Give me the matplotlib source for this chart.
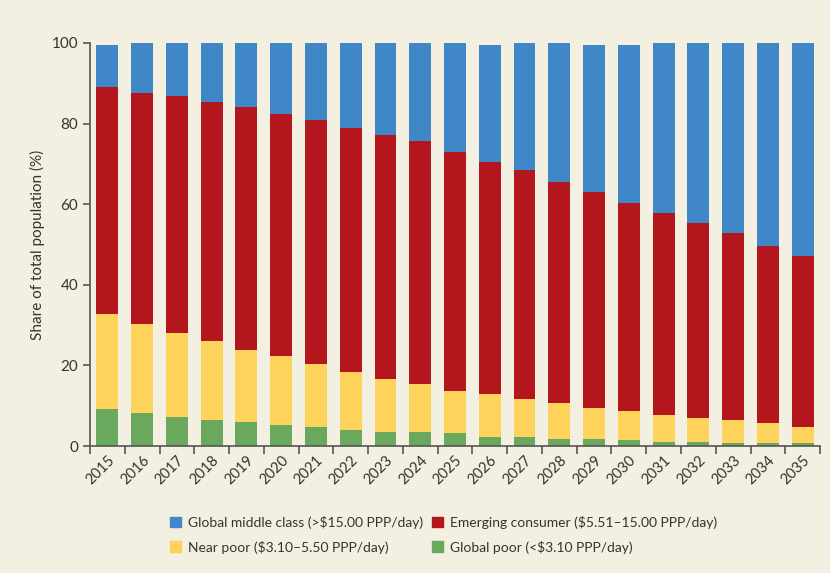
import numpy as np
import matplotlib.pyplot as plt
from matplotlib.patches import Patch

plt.rcParams["font.family"] = ["Lato", "DejaVu Sans"]

years = [str(y) for y in range(2015, 2036)]

# stacked shares (%), bottom to top
global_poor = [9.1, 8.1, 7.3, 6.5, 6.0, 5.2, 4.8, 4.0, 3.5, 3.5, 3.2,
               2.3, 2.3, 1.8, 1.8, 1.4, 1.1, 1.1, 0.7, 0.7, 0.7]
near_poor_top = [32.8, 30.3, 28.0, 26.0, 23.8, 22.3, 20.3, 18.4, 16.7, 15.4, 13.7,
                 12.9, 11.6, 10.7, 9.4, 8.6, 7.8, 6.9, 6.5, 5.6, 4.8]
emerging_top = [89.1, 87.7, 86.9, 85.3, 84.0, 82.4, 80.9, 79.0, 77.2, 75.6, 73.0,
                70.5, 68.5, 65.5, 63.0, 60.3, 57.8, 55.3, 52.9, 49.6, 47.1]
total = [99.6, 100, 100, 100, 100, 100, 100, 100, 100, 100, 100,
         99.6, 100, 100, 99.6, 99.6, 100, 100, 100, 100, 100]

near_poor = np.array(near_poor_top) - np.array(global_poor)
emerging = np.array(emerging_top) - np.array(near_poor_top)
middle = np.array(total) - np.array(emerging_top)

labels = [
    "Global middle class (>$15.00 PPP/day)",
    "Emerging consumer ($5.51\u201315.00 PPP/day)",
    "Near poor ($3.10\u20135.50 PPP/day)",
    "Global poor (<$3.10 PPP/day)",
]
colors = {"middle": "#3f87c7", "emerging": "#b3161d",
          "near": "#fdd35c", "poor": "#6aa85e"}

bg = "#f3efe1"
fig = plt.figure(figsize=(8.3, 5.73), dpi=100, facecolor=bg)
ax = fig.add_axes([0.1084, 0.2216, 0.8796, 0.7034], facecolor=bg)

x = np.arange(len(years))
w = 0.63
ax.bar(x, global_poor, w, color=colors["poor"])
ax.bar(x, near_poor, w, bottom=global_poor, color=colors["near"])
ax.bar(x, emerging, w, bottom=near_poor_top, color=colors["emerging"])
ax.bar(x, middle, w, bottom=emerging_top, color=colors["middle"])

ax.set_xlim(-0.5, len(years) - 0.5)
ax.set_ylim(0, 100)
ax.set_yticks([0, 20, 40, 60, 80, 100])

# ticks on category edges, labels under the bars
ax.set_xticks(np.arange(-0.5, len(years)), minor=False)
ax.set_xticklabels([])
ax.set_xticks(x, minor=True)
ax.set_xticklabels(years, minor=True, rotation=45, ha="right",
                   rotation_mode="anchor", fontsize=10.5, color="#333333")
ax.tick_params(axis="x", which="minor", length=0, pad=5)
ax.tick_params(axis="x", which="major", length=6, width=1.2, color="#555555")
ax.tick_params(axis="y", length=5, width=1.2, color="#555555",
               labelsize=11, labelcolor="#333333")

for s in ["top", "right"]:
    ax.spines[s].set_visible(False)
for s in ["left", "bottom"]:
    ax.spines[s].set_color("#555555")
    ax.spines[s].set_linewidth(1.2)

ax.set_ylabel("Share of total population (%)", fontsize=11, color="#333333")
ax.yaxis.set_label_coords(-0.062, 0.5)

# legend in row order: middle, emerging / near, poor (ncol fills column-wise)
handles = [Patch(color=colors["middle"]), Patch(color=colors["near"]),
           Patch(color=colors["emerging"]), Patch(color=colors["poor"])]
order = [labels[0], labels[2], labels[1], labels[3]]
fig.legend(handles, order, ncol=2, loc="lower left",
           bbox_to_anchor=(0.19, 0.012), frameon=False, fontsize=10,
           handlelength=0.8, handleheight=0.8, handletextpad=0.5,
           columnspacing=0.6, labelspacing=0.85,
           labelcolor="#333333")

fig.savefig("out.png", dpi=100, facecolor=bg)
